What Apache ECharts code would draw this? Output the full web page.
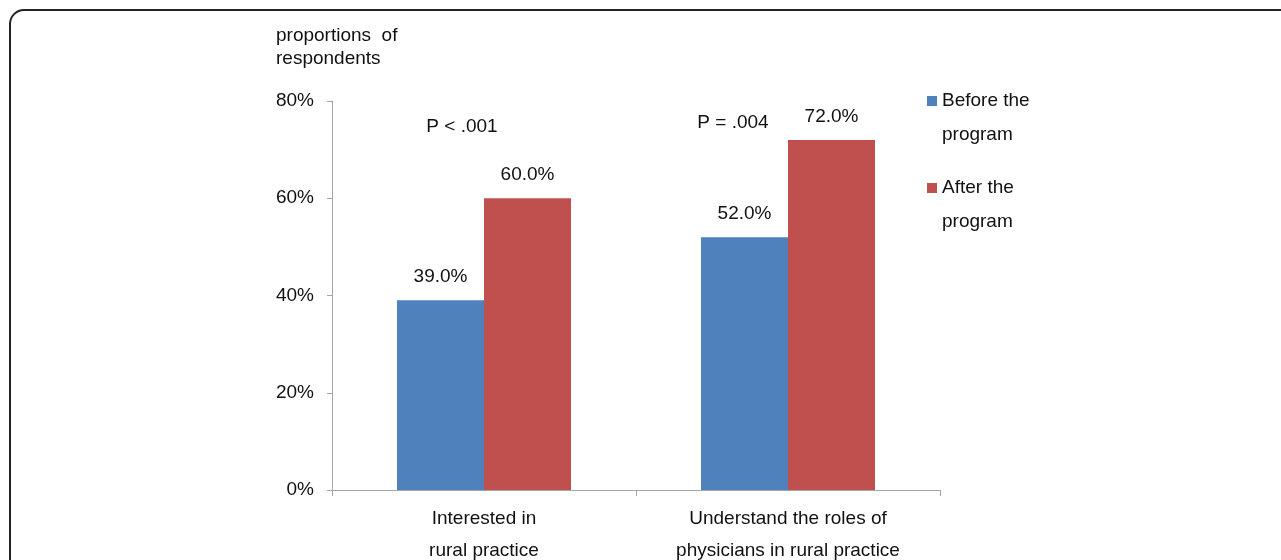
<!DOCTYPE html>
<html>
<head>
<meta charset="utf-8">
<script src="https://cdn.jsdelivr.net/npm/echarts@6/dist/echarts.min.js"></script>
<style>
  html, body { margin: 0; padding: 0; background: #fff; }
  #chart { width: 1281px; height: 560px; }
</style>
</head>
<body>
<div id="chart"></div>
<script>
// Survey outcomes before and after the program
const categories = ['Interested in\nrural practice', 'Understand the roles of\nphysicians in rural practice'];
const seriesNames = ['Before the\nprogram', 'After the\nprogram'];
const beforeValues = [39.0, 52.0];
const afterValues = [60.0, 72.0];
const pValueNotes = ['P < .001', 'P = .004'];
const yTicks = { min: 0, max: 80, interval: 20 };

const FONT = "'Liberation Sans', Arial, sans-serif";
const FS = 19;
const TEXT = '#111';
const AXIS = '#a6a6a6';

const chart = echarts.init(document.getElementById('chart'), null, { renderer: 'canvas' });

const barLabel = {
  show: true,
  position: 'top',
  distance: 14,
  color: TEXT,
  fontFamily: FONT,
  fontSize: FS,
  formatter: p => p.value.toFixed(1) + '%'
};

chart.setOption({
  animation: false,
  backgroundColor: '#fff',
  textStyle: { fontFamily: FONT },
  grid: { left: 332, right: 341, top: 101, bottom: 70, outerBoundsMode: 'none', containLabel: false },
  legend: {
    orient: 'vertical',
    left: 922,
    top: 45,
    itemWidth: 10,
    itemHeight: 10,
    itemGap: -15,
    icon: 'rect',
    selectedMode: false,
    // a leading blank line keeps the swatch level with the first text line
    formatter: name => '\n' + name,
    textStyle: {
      color: TEXT,
      fontFamily: FONT,
      fontSize: FS,
      lineHeight: 34
    },
    data: seriesNames
  },
  xAxis: {
    type: 'category',
    data: categories,
    axisLine: { show: true, lineStyle: { color: AXIS, width: 1 } },
    axisTick: { show: true, length: 6, lineStyle: { color: AXIS } },
    axisLabel: {
      color: TEXT,
      fontFamily: FONT,
      fontSize: FS,
      lineHeight: 32,
      margin: 13
    }
  },
  yAxis: {
    type: 'value',
    min: yTicks.min,
    max: yTicks.max,
    interval: yTicks.interval,
    axisLine: { show: true, lineStyle: { color: AXIS, width: 1 } },
    axisTick: { show: true, length: 5, lineStyle: { color: AXIS } },
    splitLine: { show: false },
    axisLabel: {
      color: TEXT,
      fontFamily: FONT,
      fontSize: FS,
      margin: 18,
      formatter: '{value}%'
    }
  },
  series: [
    {
      name: seriesNames[0],
      type: 'bar',
      data: beforeValues,
      barWidth: 87,
      barGap: '0%',
      itemStyle: { color: '#4f81bd' },
      label: barLabel
    },
    {
      name: seriesNames[1],
      type: 'bar',
      data: afterValues,
      barWidth: 87,
      barGap: '0%',
      itemStyle: { color: '#c0504d' },
      label: barLabel
    }
  ],
  graphic: [
    {
      type: 'rect',
      shape: { x: 10, y: 10, width: 1320, height: 620, r: 14 },
      style: { fill: 'none', stroke: '#222', lineWidth: 2 },
      silent: true,
      z: 100
    },
    {
      type: 'text',
      left: 276,
      top: 24,
      style: {
        text: 'proportions  of\nrespondents',
        fill: TEXT,
        font: FS + 'px ' + FONT,
        lineHeight: 23
      }
    },
    {
      type: 'text',
      x: 462,
      y: 127,
      style: {
        text: pValueNotes[0],
        fill: TEXT,
        font: FS + 'px ' + FONT,
        align: 'center',
        verticalAlign: 'middle'
      }
    },
    {
      type: 'text',
      x: 733,
      y: 123,
      style: {
        text: pValueNotes[1],
        fill: TEXT,
        font: FS + 'px ' + FONT,
        align: 'center',
        verticalAlign: 'middle'
      }
    }
  ]
});
</script>
</body>
</html>
